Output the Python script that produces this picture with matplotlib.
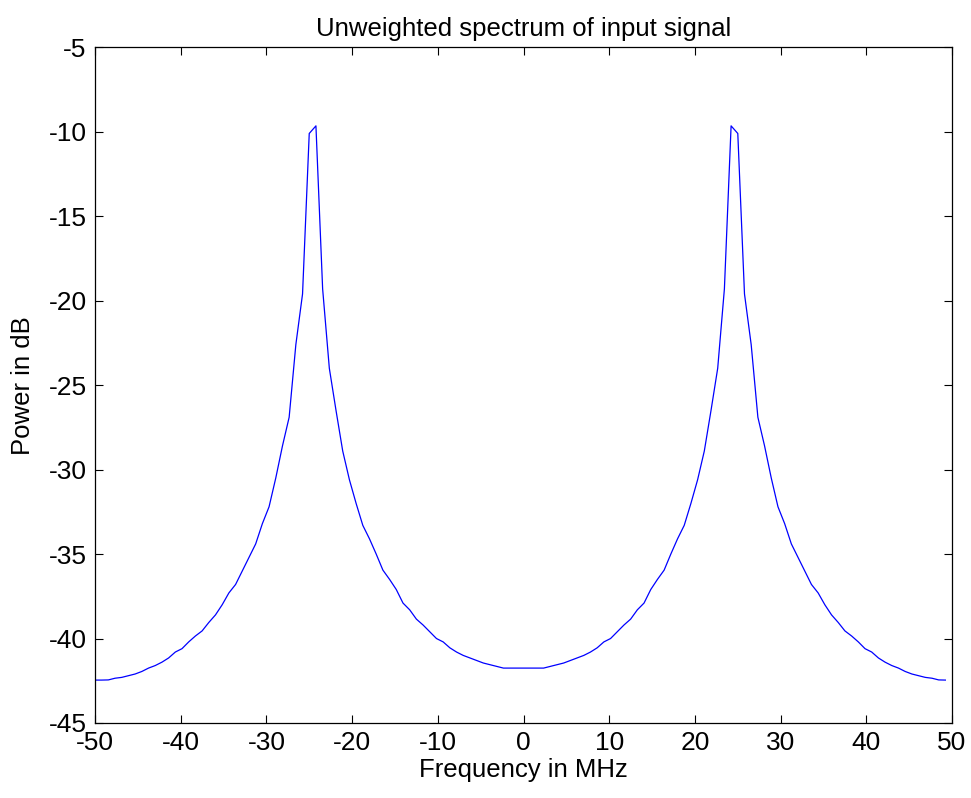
import numpy as np
import matplotlib
matplotlib.use("Agg")
import matplotlib.pyplot as plt

# frequency bins: 128 points, 100 MHz span
n_bins = 128
freq = -50 + np.arange(n_bins) * (100.0 / n_bins)

power_db = [
    -42.46, -42.46, -42.45, -42.35, -42.30, -42.20, -42.10, -41.95,
    -41.75, -41.60, -41.40, -41.15, -40.80, -40.60, -40.20, -39.85,
    -39.55, -39.05, -38.60, -38.00, -37.30, -36.80, -36.00, -35.20,
    -34.40, -33.20, -32.20, -30.50, -28.60, -26.90, -22.60, -19.60,
    -10.10, -9.65, -19.30, -24.00, -26.50, -28.90, -30.60, -32.00,
    -33.30, -34.10, -35.00, -35.95, -36.50, -37.10, -37.90, -38.30,
    -38.85, -39.20, -39.60, -40.00, -40.20, -40.55, -40.80, -41.00,
    -41.15, -41.30, -41.45, -41.55, -41.65, -41.75, -41.75, -41.75,
    -41.75, -41.75, -41.75, -41.75, -41.65, -41.55, -41.45, -41.30,
    -41.15, -41.00, -40.80, -40.55, -40.20, -40.00, -39.60, -39.20,
    -38.85, -38.30, -37.90, -37.10, -36.50, -35.95, -35.00, -34.10,
    -33.30, -32.00, -30.60, -28.90, -26.50, -24.00, -19.30, -9.65,
    -10.10, -19.60, -22.60, -26.90, -28.60, -30.50, -32.20, -33.20,
    -34.40, -35.20, -36.00, -36.80, -37.30, -38.00, -38.60, -39.05,
    -39.55, -39.85, -40.20, -40.60, -40.80, -41.15, -41.40, -41.60,
    -41.75, -41.95, -42.10, -42.20, -42.30, -42.35, -42.45, -42.46,
]

xticks = [-50, -40, -30, -20, -10, 0, 10, 20, 30, 40, 50]
yticks = [-45, -40, -35, -30, -25, -20, -15, -10, -5]

plt.rcParams['font.family'] = ['Liberation Sans', 'DejaVu Sans']
plt.rcParams['axes.unicode_minus'] = False
fig = plt.figure(figsize=(9.71, 7.98), dpi=100)
ax = fig.add_axes([0.0978, 0.094, 0.8827, 0.8467])

ax.plot(freq, power_db, color=(0, 0, 1), linewidth=0.9)
ax.set_xlim(-50, 50)
ax.set_ylim(-45, -5)
ax.set_xticks(xticks)
ax.set_yticks(yticks)
ax.tick_params(direction='in', top=True, right=True, length=6, width=0.8,
               labelsize=19, pad=6)
for s in ax.spines.values():
    s.set_linewidth(0.9)

ax.set_title('Unweighted spectrum of input signal', fontsize=18.5, pad=8)
ax.set_xlabel('Frequency in MHz', fontsize=18.5, labelpad=2)
ax.set_ylabel('Power in dB', fontsize=18.5, labelpad=10)

fig.savefig('out.png', dpi=100)
